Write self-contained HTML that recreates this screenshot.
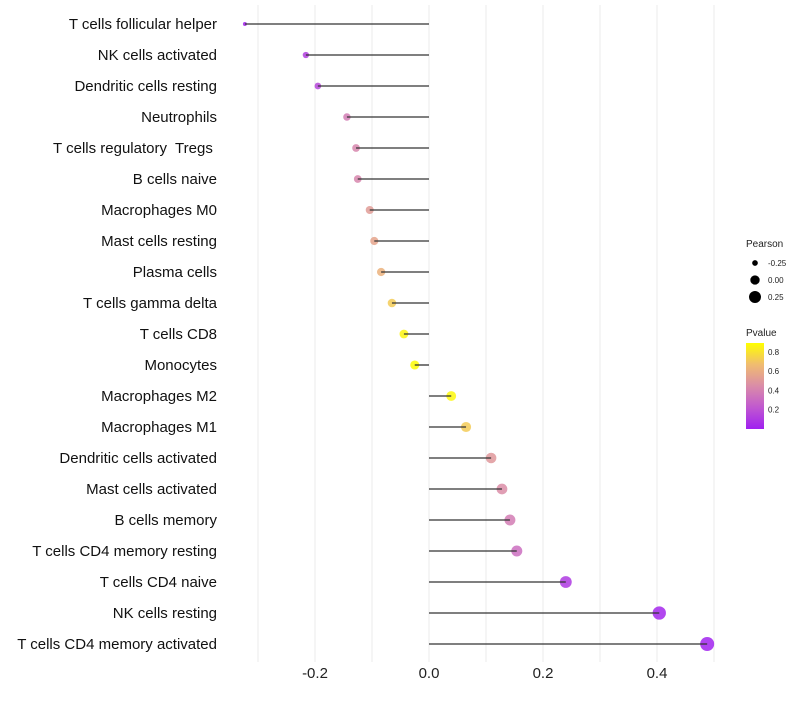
<!DOCTYPE html>
<html><head><meta charset="utf-8"><style>
body{margin:0;background:#fff;font-family:"Liberation Sans",sans-serif;}
svg text{font-family:"Liberation Sans",sans-serif;white-space:pre;}
</style></head><body>
<svg id="c" width="800" height="700">
<defs><linearGradient id="pg" x1="0" y1="1" x2="0" y2="0">
<stop offset="0" stop-color="#a020f0"/><stop offset="0.25" stop-color="#c058d0"/><stop offset="0.5" stop-color="#da8ca8"/><stop offset="0.75" stop-color="#f0bc70"/><stop offset="1" stop-color="#ffff00"/></linearGradient></defs>
</svg>
<script>
const categories=["T cells follicular helper","NK cells activated","Dendritic cells resting","Neutrophils","T cells regulatory  Tregs ","B cells naive","Macrophages M0","Mast cells resting","Plasma cells","T cells gamma delta","T cells CD8","Monocytes","Macrophages M2","Macrophages M1","Dendritic cells activated","Mast cells activated","B cells memory","T cells CD4 memory resting","T cells CD4 naive","NK cells resting","T cells CD4 memory activated"];
const pearson=[-0.323,-0.216,-0.195,-0.144,-0.128,-0.125,-0.104,-0.096,-0.084,-0.065,-0.044,-0.025,0.039,0.065,0.109,0.128,0.142,0.154,0.240,0.404,0.488];
const pvalue=[0.02,0.12,0.15,0.38,0.42,0.42,0.52,0.56,0.62,0.72,0.86,0.88,0.87,0.72,0.5,0.45,0.38,0.32,0.1,0.03,0.01];
const xTicks=[-0.2,0,0.2,0.4];
const xTickLabels=["-0.2","0.0","0.2","0.4"];
const xMinor=[-0.3,-0.1,0.1,0.3,0.5];
const sizeLegend=[-0.25,0,0.25];
const sizeLegendLabels=["-0.25","0.00","0.25"];
const pTicks=[0.2,0.4,0.6,0.8];
const NS="http://www.w3.org/2000/svg";
const svg=document.getElementById('c');
const X=v=>429+v*570;
const Y=i=>24+i*31;
const R=v=>Math.sqrt(Math.max(1,21.9+55.5*v));
const stops=[[0,[160,32,240]],[0.25,[192,88,208]],[0.5,[218,140,168]],[0.75,[240,188,112]],[1,[255,255,0]]];
function col(p){let t=Math.min(1,Math.max(0,p/0.893));for(let k=1;k<stops.length;k++){if(t<=stops[k][0]){const a=stops[k-1],b=stops[k];const f=(t-a[0])/(b[0]-a[0]);const c=a[1].map((v,j)=>Math.round(v+(b[1][j]-v)*f));return `rgb(${c})`;}}return 'rgb(255,255,0)';}
function mk(t,attrs,txt){const e=document.createElementNS(NS,t);for(const k in attrs)e.setAttribute(k,attrs[k]);if(txt!==undefined)e.textContent=txt;svg.appendChild(e);return e;}
xMinor.concat(xTicks).forEach(v=>{const g=mk('line',{x1:X(v),x2:X(v),y1:5,y2:662,stroke:'#ebebeb','stroke-width':1});

});
xTicks.forEach((v,i)=>{const t=mk('text',{x:X(v),y:678,'text-anchor':'middle','font-size':15,fill:'#222'},xTickLabels[i]);

});
categories.forEach((c,i)=>{
const t=mk('text',{x:217,y:Y(i)+5,'text-anchor':'end','font-size':15,fill:'#111'},c);


const p=mk('circle',{cx:X(pearson[i]),cy:Y(i),r:R(pearson[i]),fill:col(pvalue[i]),'fill-opacity':0.85});


const l=mk('line',{x1:X(0),x2:X(pearson[i]),y1:Y(i),y2:Y(i),stroke:'#333','stroke-width':1.3});


});
let t=mk('text',{x:746,y:247,'font-size':10,fill:'#222'},'Pearson');


sizeLegend.forEach((v,i)=>{const y=263+i*17;
const c=mk('circle',{cx:755,cy:y,r:R(v),fill:'#000'});


const tt=mk('text',{x:768,y:y+3,'font-size':8,fill:'#222'},sizeLegendLabels[i]);

});
t=mk('text',{x:746,y:336,'font-size':10,fill:'#222'},'Pvalue');


const bar=mk('rect',{x:746,y:343,width:18,height:86,fill:'url(#pg)'});


pTicks.forEach(v=>{const y=429-v/0.893*86;
const tl=mk('text',{x:768,y:y+3,'font-size':8,fill:'#222'},v.toFixed(1));

});
</script>
</body></html>
